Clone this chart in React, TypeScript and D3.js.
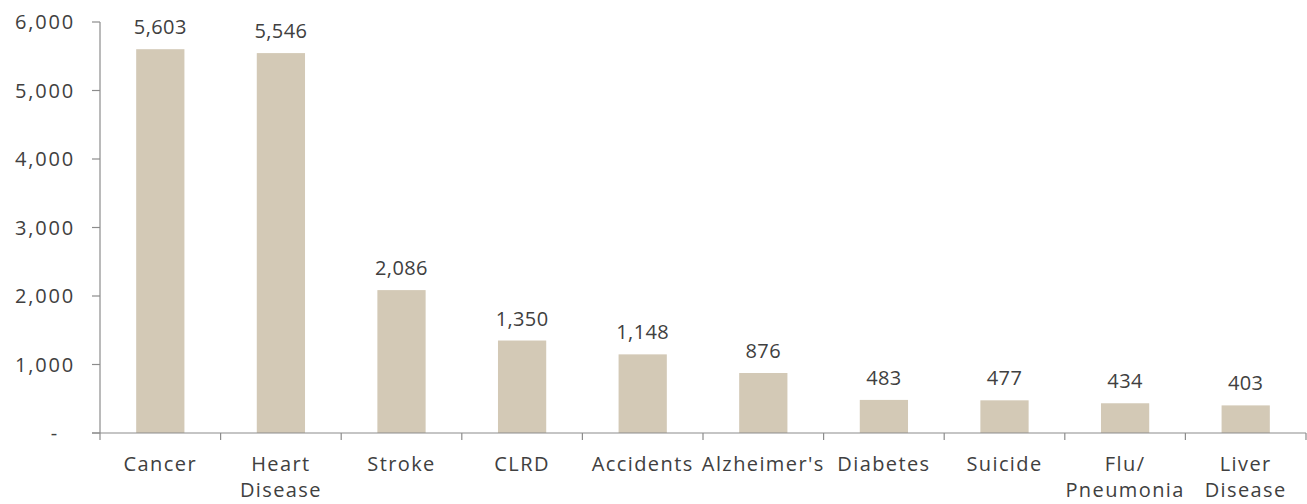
import React from "react";
import * as d3 from "d3";

const categories: string[][] = [
  ["Cancer"],
  ["Heart", "Disease"],
  ["Stroke"],
  ["CLRD"],
  ["Accidents"],
  ["Alzheimer's"],
  ["Diabetes"],
  ["Suicide"],
  ["Flu/", "Pneumonia"],
  ["Liver", "Disease"],
];
const values: number[] = [5603, 5546, 2086, 1350, 1148, 876, 483, 477, 434, 403];
const yTicks: number[] = [0, 1000, 2000, 3000, 4000, 5000, 6000];

const W = 1307;
const H = 504;
const left = 100;
const right = 1306;
const top = 22;
const bottom = 433;
const font = "'Open Sans', sans-serif";
const textColor = "#404040";
const axisColor = "#8c8c8c";
const barColor = "#D3C9B6";

export default function App() {
  const keys = categories.map((c) => c.join(" "));
  const x = d3.scaleBand<string>().domain(keys).range([left, right]).paddingInner(0.6).paddingOuter(0.3);
  const xb = d3.scaleBand<string>().domain(keys).range([left, right]);
  const y = d3.scaleLinear().domain([0, 6000]).range([bottom, top]);
  const fmt = d3.format(",");
  return (
    <svg width={W} height={H} style={{ position: "absolute", left: 0, top: 0 }} fontFamily={font}>
      {values.map((v, i) => (
        <g key={i}>
          <rect x={x(keys[i])} y={y(v)} width={x.bandwidth()} height={bottom - y(v)} fill={barColor} />
          <text x={(x(keys[i]) as number) + x.bandwidth() / 2} y={y(v) - 15} textAnchor="middle" fontSize={20} letterSpacing={0.4} fill={textColor}>
            {fmt(v)}
          </text>
        </g>
      ))}
      <line x1={left} x2={left} y1={top} y2={bottom} stroke={axisColor} strokeWidth={1.2} />
      {yTicks.map((t) => (
        <g key={t}>
          <line x1={left - 8} x2={left} y1={y(t)} y2={y(t)} stroke={axisColor} strokeWidth={1.2} />
          <text x={t === 0 ? 59 : 75} y={y(t) + 7} textAnchor="end" fontSize={20} letterSpacing={1.8} fill={textColor}>
            {t === 0 ? "-" : fmt(t)}
          </text>
        </g>
      ))}
      <line x1={left - 8} x2={right} y1={bottom} y2={bottom} stroke={axisColor} strokeWidth={1.2} />
      {keys.concat(["end"]).map((k, i) => {
        const xp = i < keys.length ? (xb(k) as number) : right;
        return <line key={"t" + i} x1={xp} x2={xp} y1={bottom} y2={bottom + 7} stroke={axisColor} strokeWidth={1.2} />;
      })}
      {categories.map((lines, i) => (
        <text key={"c" + i} x={(xb(keys[i]) as number) + xb.bandwidth() / 2} textAnchor="middle" fontSize={20} letterSpacing={1.4} fill={textColor}>
          {lines.map((l, j) => (
            <tspan key={j} x={(xb(keys[i]) as number) + xb.bandwidth() / 2} y={471 + j * 26}>
              {l}
            </tspan>
          ))}
        </text>
      ))}
    </svg>
  );
}
